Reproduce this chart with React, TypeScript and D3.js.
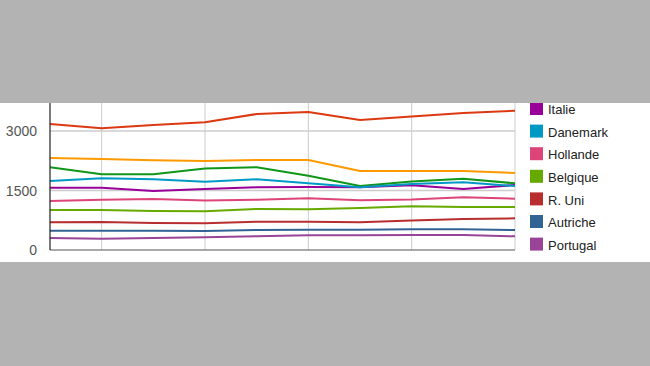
import React, { useRef, useEffect } from 'react';
import * as d3 from 'd3';

// years on the x axis
const years = [2003, 2004, 2005, 2006, 2007, 2008, 2009, 2010, 2011, 2012];
const xTickYears = [2004, 2006, 2008, 2010, 2012];
const yTicks = [0, 1500, 3000, 4500];

// series whose legend entries sit above the visible band
const serieRouge = [3176, 3068, 3151, 3222, 3428, 3479, 3277, 3365, 3454, 3512];
const serieOrange = [2319, 2294, 2261, 2244, 2269, 2269, 1992, 1992, 1992, 1941];
const serieVerte = [2085, 1908, 1908, 2055, 2085, 1873, 1613, 1727, 1797, 1681];
// visible legend series
const italie = [1571, 1571, 1487, 1538, 1580, 1588, 1580, 1631, 1538, 1639];
const danemark = [1739, 1808, 1782, 1722, 1782, 1681, 1580, 1664, 1707, 1613];
const hollande = [1235, 1268, 1286, 1248, 1268, 1303, 1253, 1273, 1328, 1293];
const belgique = [1008, 1008, 983, 978, 1034, 1026, 1059, 1102, 1084, 1084];
const rUni = [698, 706, 681, 673, 713, 713, 698, 744, 781, 799];
const autriche = [487, 487, 487, 479, 504, 512, 512, 524, 521, 504];
const portugal = [303, 285, 303, 320, 345, 371, 371, 378, 378, 345];

const series = [
  { name: '', values: serieRouge, color: '#dc3912', legend: false },
  { name: '', values: serieOrange, color: '#ff9900', legend: false },
  { name: '', values: serieVerte, color: '#109618', legend: false },
  { name: 'Italie', values: italie, color: '#990099', legend: true },
  { name: 'Danemark', values: danemark, color: '#0099c6', legend: true },
  { name: 'Hollande', values: hollande, color: '#dd4477', legend: true },
  { name: 'Belgique', values: belgique, color: '#66aa00', legend: true },
  { name: 'R. Uni', values: rUni, color: '#b82e2e', legend: true },
  { name: 'Autriche', values: autriche, color: '#316395', legend: true },
  { name: 'Portugal', values: portugal, color: '#994499', legend: true },
];

const App = () => {
  const ref = useRef<SVGSVGElement>(null);
  const width = 650, height = 366;
  const band = { top: 103, bottom: 262 };
  const plot = { left: 50, right: 515, bottom: 250 };

  useEffect(() => {
    const svg = d3.select(ref.current);
    svg.selectAll('*').remove();
    const font = 'Arial, "Liberation Sans", sans-serif';

    svg.append('rect').attr('width', width).attr('height', height).attr('fill', '#b3b3b3');
    svg.append('rect').attr('x', 0).attr('y', band.top).attr('width', width)
      .attr('height', band.bottom - band.top).attr('fill', '#ffffff');

    const x = d3.scaleLinear().domain([2003, 2012]).range([plot.left, plot.right]);
    const y = d3.scaleLinear().domain([0, 3000]).range([plot.bottom, 131]);

    // gridlines
    svg.append('g').selectAll('line').data(yTicks.filter(d => d > 0)).enter().append('line')
      .attr('x1', plot.left).attr('x2', plot.right)
      .attr('y1', d => y(d)).attr('y2', d => y(d))
      .attr('stroke', '#cccccc').attr('stroke-width', 1.5);
    svg.append('g').selectAll('line').data(xTickYears).enter().append('line')
      .attr('x1', d => x(d)).attr('x2', d => x(d))
      .attr('y1', 0).attr('y2', plot.bottom)
      .attr('stroke', '#cccccc').attr('stroke-width', 1);

    // y labels
    svg.append('g').selectAll('text').data(yTicks).enter().append('text')
      .attr('x', 37).attr('y', d => y(d)).attr('dy', '0.36em')
      .attr('text-anchor', 'end').attr('font-family', font).attr('font-size', 14)
      .attr('fill', '#555').text(d => d);

    // x labels (mostly hidden under the lower band)
    svg.append('g').selectAll('text').data(xTickYears).enter().append('text')
      .attr('x', d => x(d)).attr('y', 271.5).attr('text-anchor', 'middle')
      .attr('font-family', font).attr('font-size', 14).attr('fill', '#555').text(d => d);

    const line = d3.line<number>().x((_, i) => x(years[i])).y(d => y(d));
    svg.append('g').selectAll('path').data(series).enter().append('path')
      .attr('d', d => line(d.values))
      .attr('fill', 'none').attr('stroke', d => d.color).attr('stroke-width', 2)
      .attr('stroke-linejoin', 'round');

    // axes
    svg.append('line').attr('x1', plot.left).attr('x2', plot.right)
      .attr('y1', plot.bottom).attr('y2', plot.bottom).attr('stroke', '#555').attr('stroke-width', 1.2);
    svg.append('line').attr('x1', plot.left).attr('x2', plot.left)
      .attr('y1', 0).attr('y2', plot.bottom).attr('stroke', '#222').attr('stroke-width', 1.2);

    // legend
    const leg = series.filter(s => s.legend);
    const lg = svg.append('g').selectAll('g').data(leg).enter().append('g')
      .attr('transform', (_, i) => `translate(530, ${108.5 + i * 22.6})`);
    lg.append('rect').attr('x', 0).attr('y', -6.5).attr('width', 13).attr('height', 13)
      .attr('fill', d => d.color);
    lg.append('text').attr('x', 18).attr('y', 1).attr('dy', '0.36em')
      .attr('font-family', font).attr('font-size', 13).attr('fill', '#222').text(d => d.name);

    // grey bands over the cropped chart
    svg.append('rect').attr('x', 0).attr('y', 0).attr('width', width).attr('height', band.top).attr('fill', '#b3b3b3');
    svg.append('rect').attr('x', 0).attr('y', band.bottom).attr('width', width)
      .attr('height', height - band.bottom).attr('fill', '#b3b3b3');
  }, []);

  return (
    <svg ref={ref} width={width} height={height}
      style={{ position: 'absolute', left: 0, top: 0, display: 'block' }} />
  );
};

export default App;
